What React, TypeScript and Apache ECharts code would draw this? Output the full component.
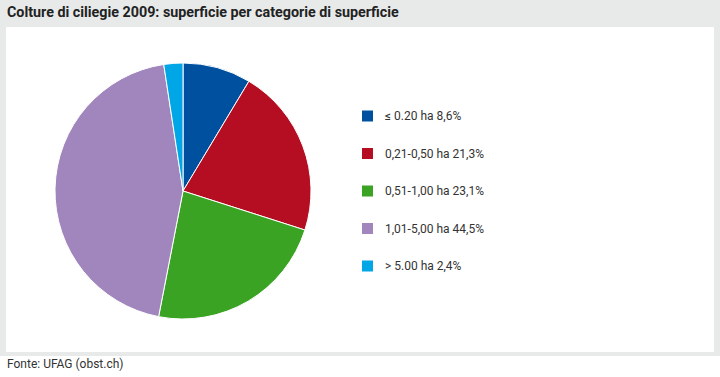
import React, { useEffect, useRef } from "react";
import * as echarts from "echarts";

const categories = ["≤ 0.20 ha", "0,21-0,50 ha", "0,51-1,00 ha", "1,01-5,00 ha", "> 5.00 ha"];
const shares = [8.6, 21.3, 23.1, 44.5, 2.4];
const shareLabels = ["8,6%", "21,3%", "23,1%", "44,5%", "2,4%"];
const colors = ["#0050a0", "#b50d22", "#3aa323", "#a086bd", "#00a6e6"];

const FONT = "Roboto, 'Noto Sans', sans-serif";

export default function App() {
  const ref = useRef<HTMLDivElement>(null);
  useEffect(() => {
    document.body.style.margin = "0";
    const chart = echarts.init(ref.current!, undefined, { renderer: "svg" });
    const names = categories.map((c, i) => `${c} ${shareLabels[i]}`);
    chart.setOption({
      animation: false,
      backgroundColor: "#ffffff",
      graphic: [
        { type: "rect", z: -10, shape: { x: 0, y: 0, width: 720, height: 356 }, style: { fill: "#e8eaea" } },
        { type: "rect", z: -9, shape: { x: 6, y: 27, width: 708, height: 325 }, style: { fill: "#ffffff" } },
        {
          type: "text", left: 7, top: 5,
          style: { text: "Colture di ciliegie 2009: superficie per categorie di superficie", fill: "#222222", font: `bold 14.3px ${FONT}` },
        },
        {
          type: "text", left: 7, top: 358,
          style: { text: "Fonte: UFAG (obst.ch)", fill: "#333333", font: `12px ${FONT}` },
        },
      ],
      legend: {
        orient: "vertical",
        left: 360,
        top: 108.5,
        padding: 0,
        itemWidth: 13,
        itemHeight: 13,
        itemGap: 22.5,
        icon: "rect",
        selectedMode: false,
        textStyle: { fontSize: 12, color: "#333333", fontFamily: FONT, padding: [0, 0, 0, 6] },
        data: names,
      },
      series: [
        {
          type: "pie",
          center: [183, 191],
          radius: 128,
          startAngle: 90,
          clockwise: true,
          label: { show: false },
          labelLine: { show: false },
          silent: true,
          itemStyle: { borderColor: "#ffffff", borderWidth: 1 },
          data: shares.map((v, i) => ({ name: names[i], value: v, itemStyle: { color: colors[i] } })),
        },
      ],
    });
    return () => chart.dispose();
  }, []);
  return <div ref={ref} style={{ width: 720, height: 377 }} />;
}
